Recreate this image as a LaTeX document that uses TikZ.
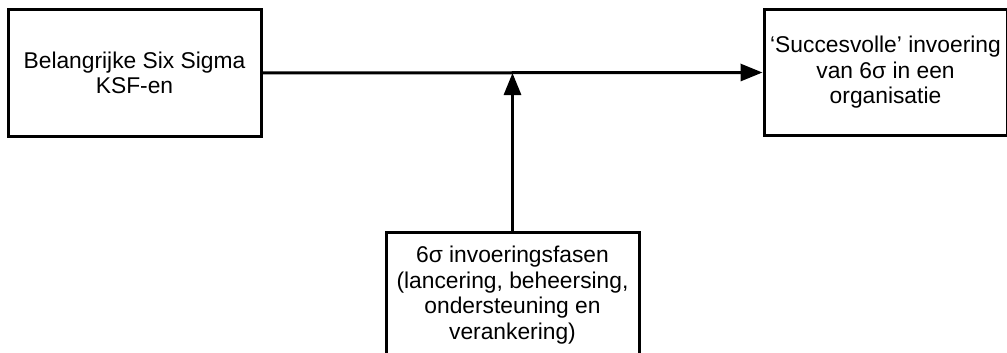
\documentclass[tikz,border=0pt]{standalone}
\usepackage{fontspec}
\setmainfont{Liberation Sans}
\usetikzlibrary{arrows.meta}

\begin{document}
\begin{tikzpicture}[x=1pt,y=-1pt]
    \pgfmathsetmacro{\boxwidth}{253}
    \pgfmathsetmacro{\boxheight}{126}
    \pgfmathsetmacro{\rulewidth}{3}
    \providecommand{\boxfontsize}{\fontsize{22.8pt}{25.5pt}\selectfont}
    \tikzset{
        factorbox/.style={draw,line width=\rulewidth pt,minimum width=\boxwidth pt,minimum height=\boxheight pt,inner sep=0,align=center,font=\boxfontsize},
        flow/.style={line width=\rulewidth pt,-{Triangle[length=22pt,width=17pt]}}
    }
    \clip (0,0) rectangle (1007,353);
    \node[factorbox](ksf) at (134.5,73) {Belangrijke Six Sigma\\KSF-en};
    \node[factorbox,minimum width=243pt](succes) at (885.5,72.5) {‘Succesvolle’ invoering\\van 6σ in een\\organisatie};
    % bottom box runs off the page
    \node[factorbox](fasen) at (512.5,295) {6σ invoeringsfasen\\(lancering, beheersing,\\ondersteuning en\\verankering)};
    \coordinate (meet) at (fasen.north |- ksf.east);
    \draw[flow] (ksf.east) -- (succes.west);
    \draw[flow] (fasen.north) -- (meet);
\end{tikzpicture}
\end{document}
